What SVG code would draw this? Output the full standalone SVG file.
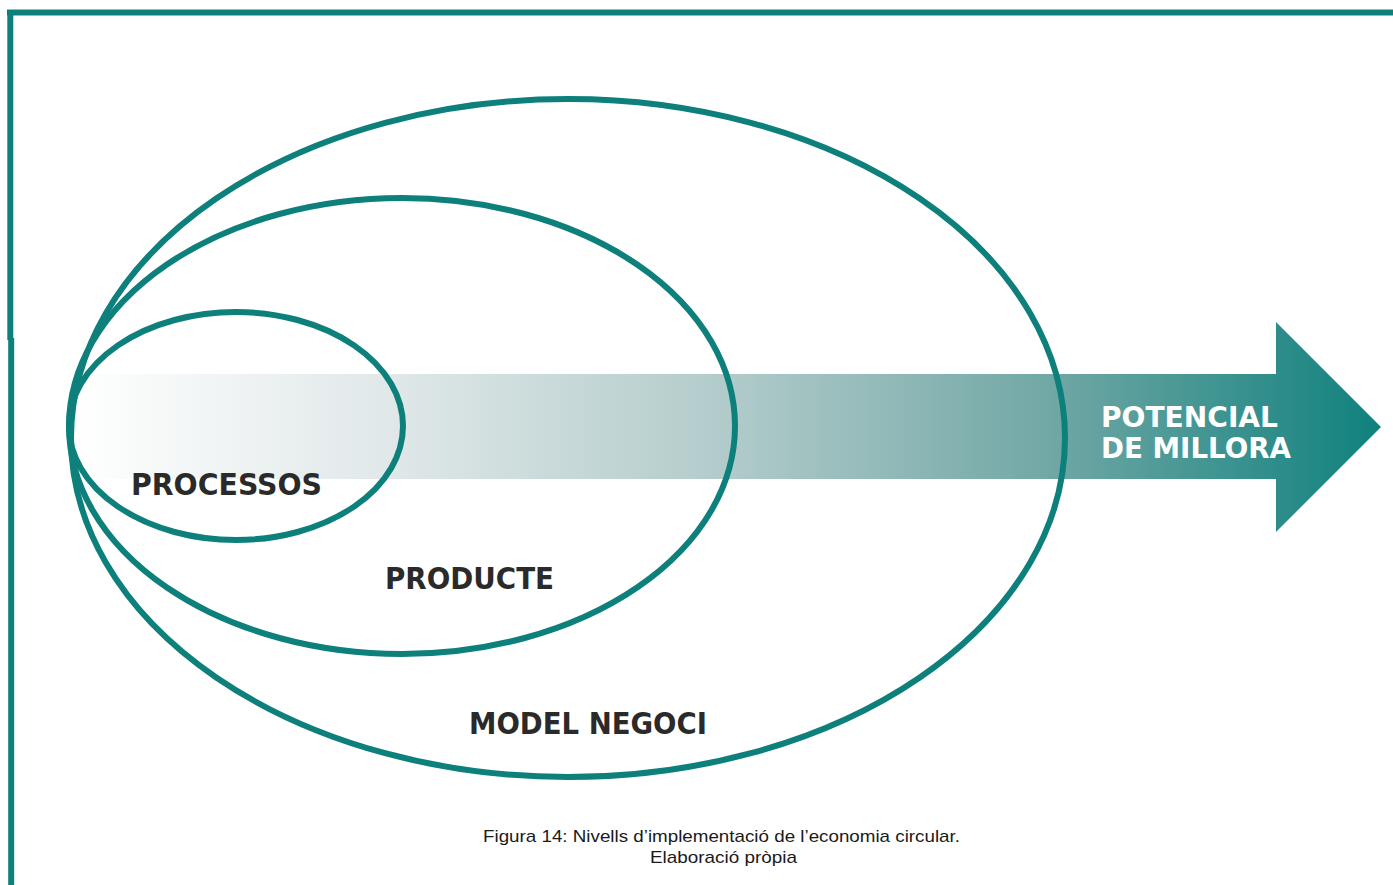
<svg xmlns="http://www.w3.org/2000/svg" width="1393" height="885" viewBox="0 0 1393 885">
<style>
.frame{stroke:#0e807c;stroke-width:6;fill:none}
.ring{stroke:#0e807c;stroke-width:6;fill:none}
.lbl{font-family:"DejaVu Sans","Liberation Sans",sans-serif;font-weight:bold;fill:#2b2a2a;font-size:31px}
.wl{font-family:"DejaVu Sans","Liberation Sans",sans-serif;font-weight:bold;fill:#ffffff;font-size:29px}
.cap{font-family:"Liberation Sans",Arial,sans-serif;fill:#1a1a1a;font-size:17px}
</style>
<defs>
<linearGradient id="g" x1="72" y1="0" x2="1381" y2="0" gradientUnits="userSpaceOnUse">
<stop offset="0" stop-color="#ffffff"/>
<stop offset="0.25" stop-color="#dfe7e8"/>
<stop offset="0.5" stop-color="#b1cbca"/>
<stop offset="0.75" stop-color="#70a7a5"/>
<stop offset="1" stop-color="#0f817d"/>
</linearGradient>
</defs>
<g id="frame">
<line class="frame" x1="7" y1="12.5" x2="1393" y2="12.5"/>
<line class="frame" x1="10.3" y1="10" x2="10.3" y2="340"/>
<line class="frame" x1="11.2" y1="338" x2="11.2" y2="885"/>
</g>
<g id="arrow">
<polygon fill="url(#g)" points="72,374 1276,374 1276,322 1381,427 1276,532 1276,479 72,479"/>
</g>
<g id="model-negoci">
<ellipse class="ring" cx="568" cy="438" rx="497" ry="339"/>
</g>
<g id="producte">
<ellipse class="ring" cx="402" cy="426" rx="333" ry="228"/>
</g>
<g id="processos">
<ellipse class="ring" cx="236" cy="426" rx="167" ry="114"/>
</g>
<g id="labels">
<text class="lbl" x="131" y="495" textLength="191" lengthAdjust="spacingAndGlyphs">PROCESSOS</text>
<text class="lbl" x="385" y="589" textLength="169" lengthAdjust="spacingAndGlyphs">PRODUCTE</text>
<text class="lbl" x="469" y="734" textLength="238" lengthAdjust="spacingAndGlyphs">MODEL NEGOCI</text>
<text class="wl" x="1101" y="427" textLength="177" lengthAdjust="spacingAndGlyphs">POTENCIAL</text>
<text class="wl" x="1101" y="458" textLength="190" lengthAdjust="spacingAndGlyphs">DE MILLORA</text>
</g>
<g id="caption">
<text class="cap" x="483" y="842" textLength="477" lengthAdjust="spacingAndGlyphs">Figura 14: Nivells d’implementació de l’economia circular.</text>
<text class="cap" x="650" y="863" textLength="147" lengthAdjust="spacingAndGlyphs">Elaboració pròpia</text>
</g>
</svg>
